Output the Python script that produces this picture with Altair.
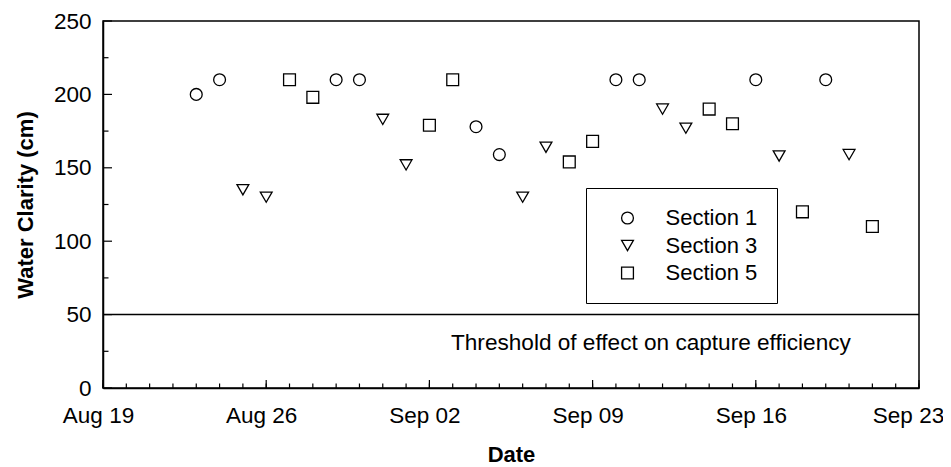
import altair as alt
import pandas as pd

YEAR = 2003
FONT = "Liberation Sans, Arial, Helvetica, sans-serif"

# ---- data ----
sections = ["Section 1", "Section 3", "Section 5"]
s1_dates = ["08-23", "08-24", "08-29", "08-30", "09-04", "09-05", "09-10", "09-11", "09-16", "09-19"]
s1_vals = [200, 210, 210, 210, 178, 159, 210, 210, 210, 210]
s3_dates = ["08-25", "08-26", "08-31", "09-01", "09-06", "09-07", "09-12", "09-13", "09-17", "09-20"]
s3_vals = [135, 130, 183, 152, 130, 164, 190, 177, 158, 159]
s5_dates = ["08-27", "08-28", "09-02", "09-03", "09-08", "09-09", "09-14", "09-15", "09-18", "09-21"]
s5_vals = [210, 198, 179, 210, 154, 168, 190, 180, 120, 110]

threshold_value = [50]
threshold_label = "Threshold of effect on capture efficiency"
x_start, x_end = "08-19", "09-23"
y_major = [0, 50, 100, 150, 200, 250]
y_minor = [25, 75, 125, 175, 225]

def d(md):
    return f"{YEAR}-{md}"

rows = []
for name, ds, vs in zip(sections, [s1_dates, s3_dates, s5_dates], [s1_vals, s3_vals, s5_vals]):
    for a, v in zip(ds, vs):
        rows.append({"date": d(a), "clarity": v, "section": name})
pts = pd.DataFrame(rows)

all_days = pd.date_range(d(x_start), d(x_end), freq="D")
major_days = all_days[::7]
minor_df = pd.DataFrame({"date": [t.strftime("%Y-%m-%d") for t in all_days]})
major_df = pd.DataFrame({"date": [t.strftime("%Y-%m-%d") for t in major_days]})
ymaj_df = pd.DataFrame({"v": y_major})
ymin_df = pd.DataFrame({"v": y_minor})

def dt(s):
    y, m, dd = s.split("-")
    return alt.DateTime(year=int(y), month=int(m), date=int(dd), utc=True)

x_scale = alt.Scale(type="utc", domain=[dt(d(x_start)), dt(d(x_end))], nice=False)
y_scale = alt.Scale(domain=[0, 250], nice=False, zero=False)

x_axis = alt.Axis(
    values=[dt(t.strftime("%Y-%m-%d")) for t in major_days],
    format="%b %d", title="Date", labelPadding=16,
    labelOffset={"condition": {"test": f"datum.value > utc({YEAR}, 8, 20)", "value": -11}, "value": -5},
    labelFlush=False, labelOverlap=False, labelBound=False,
    titleY=73, titleBaseline="alphabetic", titleX=408, titleAnchor="middle",
)
y_axis = alt.Axis(
    values=y_major, title="Water Clarity (cm)", labelPadding=12,
    titleX=-71, titleY=183.5, titleBaseline="alphabetic", titleAlign="center",
)

base_x = alt.X("date:T", scale=x_scale, axis=x_axis)

points = alt.Chart(pts).mark_point(
    filled=False, color="black", strokeWidth=1.3, size=140, opacity=1
).encode(
    x=base_x,
    y=alt.Y("clarity:Q", scale=y_scale, axis=y_axis),
    shape=alt.Shape(
        "section:N",
        scale=alt.Scale(domain=sections, range=["circle", "triangle-down", "square"]),
        legend=alt.Legend(
            orient="none", legendX=483, legendY=167, title=None,
            padding=19, symbolOffset=11.5, labelOffset=27, rowPadding=5.5,
            labelFontSize=22, labelFont=FONT, labelColor="black", labelLimit=300,
            strokeColor="black", fillColor="white",
            symbolStrokeColor="black", symbolFillColor="white",
            symbolSize=140, symbolStrokeWidth=1.3,
        ),
    ),
)

thresh = alt.Chart(pd.DataFrame({"v": threshold_value})).mark_rule(
    color="black", strokeWidth=1.5
).encode(y=alt.Y("v:Q", scale=y_scale))

thresh_text = alt.Chart(pd.DataFrame({"t": [threshold_label]})).mark_text(
    align="left", baseline="middle", fontSize=22.6, font=FONT, color="black"
).encode(text="t:N", x=alt.value(348), y=alt.value(322))

xmin_ticks = alt.Chart(minor_df).mark_rule(color="black", strokeWidth=1.2).encode(
    x=alt.X("date:T", scale=x_scale), y=alt.value(367), y2=alt.value(362.5)
)
xmaj_ticks = alt.Chart(major_df).mark_rule(color="black", strokeWidth=1.2).encode(
    x=alt.X("date:T", scale=x_scale), y=alt.value(367), y2=alt.value(359)
)
ymaj_ticks = alt.Chart(ymaj_df).mark_rule(color="black", strokeWidth=1.2).encode(
    y=alt.Y("v:Q", scale=y_scale), x=alt.value(0), x2=alt.value(9)
)
ymin_ticks = alt.Chart(ymin_df).mark_rule(color="black", strokeWidth=1.2).encode(
    y=alt.Y("v:Q", scale=y_scale), x=alt.value(0), x2=alt.value(5.5)
)

chart = alt.layer(
    xmin_ticks, xmaj_ticks, ymaj_ticks, ymin_ticks, thresh, thresh_text, points
).properties(
    width=816, height=367,
    autosize=alt.AutoSizeParams(type="none"),
    padding={"left": 95, "top": 13, "right": 24, "bottom": 78},
    background="white",
).configure_axis(
    grid=False, ticks=False, domainColor="black", domainWidth=1.5,
    labelFont=FONT, labelFontSize=22.5, labelColor="black",
    titleFont=FONT, titleFontSize=22, titleFontWeight="bold", titleColor="black",
).configure_view(stroke="black", strokeWidth=1.5)

chart.save("out.html", embed_options={"renderer": "svg", "actions": False})
